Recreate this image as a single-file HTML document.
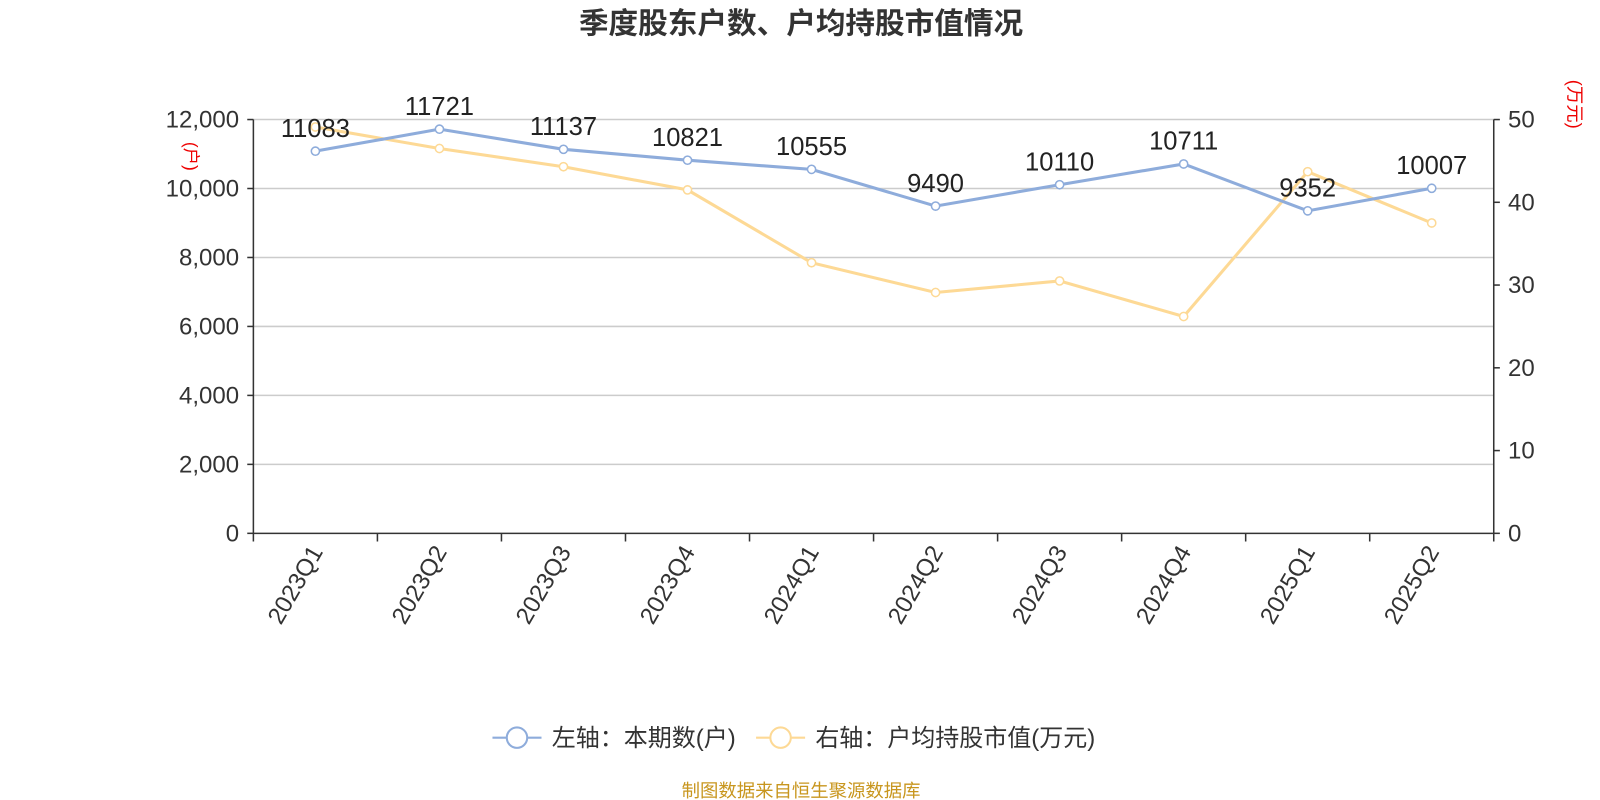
<!DOCTYPE html>
<html><head><meta charset="utf-8"><style>
html,body{margin:0;padding:0;background:#fff;}
svg{display:block;font-family:"Liberation Sans","Noto Sans CJK SC",sans-serif;}
</style></head><body>
<svg id="chart" width="1600" height="800" viewBox="0 0 1566 783" preserveAspectRatio="none">
<text x="784" y="33" text-anchor="middle" font-size="29" font-weight="bold" fill="#333">季度股东户数、户均持股市值情况</text>
<g id="grid"></g>
<g id="axes"></g>
<g id="series"></g>
<text transform="translate(181,153) rotate(90)" text-anchor="middle" font-size="17" fill="#e00">(户)</text>
<text transform="translate(1535,102) rotate(90)" text-anchor="middle" font-size="18" fill="#e00">(万元)</text>
<g>
<line x1="482" y1="722" x2="530" y2="722" stroke="#8eacdb" stroke-width="2"/>
<circle cx="506" cy="722" r="10" fill="#fff" stroke="#8eacdb" stroke-width="2"/>
<text x="540" y="730" font-size="23.5" fill="#333">左轴：本期数(户)</text>
</g>
<g>
<line x1="740" y1="722" x2="788" y2="722" stroke="#fdd995" stroke-width="2"/>
<circle cx="764" cy="722" r="10" fill="#fff" stroke="#fdd995" stroke-width="2"/>
<text x="798" y="730" font-size="23.5" fill="#333">右轴：户均持股市值(万元)</text>
</g>
<text x="784" y="780" text-anchor="middle" font-size="18" fill="#c8961e">制图数据来自恒生聚源数据库</text>
</svg>
<script>
const categories=["2023Q1","2023Q2","2023Q3","2023Q4","2024Q1","2024Q2","2024Q3","2024Q4","2025Q1","2025Q2"];
const holders=[11083,11721,11137,10821,10555,9490,10110,10711,9352,10007];
const avgValue=[49.1,46.5,44.3,41.5,32.7,29.1,30.5,26.2,43.7,37.5];
const leftTicks=[0,2000,4000,6000,8000,10000,12000];
const rightTicks=[0,10,20,30,40,50];
const NS="http://www.w3.org/2000/svg";
const X0=248,X1=1462,Y0=522,Y1=117;
const bw=(X1-X0)/categories.length;
const xc=i=>X0+bw*(i+0.5);
const yL=v=>Y0-(v/12000)*(Y0-Y1);
const yR=v=>Y0-(v/50)*(Y0-Y1);
function mk(tag,attrs,parent){const e=document.createElementNS(NS,tag);for(const k in attrs)e.setAttribute(k,attrs[k]);parent.appendChild(e);return e;}
const grid=document.getElementById('grid'),axes=document.getElementById('axes'),ser=document.getElementById('series');
leftTicks.forEach(t=>{
  const y=yL(t);
  if(t>0){const g=mk('line',{x1:X0,x2:X1,y1:y,y2:y,stroke:'#ccc','stroke-width':1.5},grid);
  
  }
  mk('line',{x1:X0-6,x2:X0,y1:y,y2:y,stroke:'#333','stroke-width':1.5},axes);
  const tx=mk('text',{x:X0-14,y:y+8,'text-anchor':'end','font-size':23.5,fill:'#333'},axes);
  tx.textContent=t.toLocaleString('en-US');
  
  
});
rightTicks.forEach(t=>{
  const y=yR(t);
  mk('line',{x1:X1,x2:X1+6,y1:y,y2:y,stroke:'#333','stroke-width':1.5},axes);
  const tx=mk('text',{x:X1+14,y:y+8,'font-size':23.5,fill:'#333'},axes);
  tx.textContent=t;
  
  
});
mk('line',{x1:X0,x2:X0,y1:Y1,y2:Y0,stroke:'#333','stroke-width':1.5},axes);
mk('line',{x1:X1,x2:X1,y1:Y1,y2:Y0,stroke:'#333','stroke-width':1.5},axes);
mk('line',{x1:X0,x2:X1,y1:Y0,y2:Y0,stroke:'#333','stroke-width':1.5},axes);
for(let i=0;i<=categories.length;i++){const x=X0+bw*i;mk('line',{x1:x,x2:x,y1:Y0,y2:Y0+8,stroke:'#333','stroke-width':1.5},axes);}
categories.forEach((c,i)=>{
  const x=xc(i)+8,y=Y0+18;
  const tx=mk('text',{x:x,y:y,'text-anchor':'end','font-size':23.5,fill:'#333',transform:`rotate(-60 ${x} ${y})`},axes);
  tx.textContent=c;
  
  
});
function line(vals,fy,color,name){
  const p=mk('polyline',{points:vals.map((v,i)=>xc(i)+','+fy(v)).join(' '),fill:'none',stroke:color,'stroke-width':3},ser);
  
  
  vals.forEach((v,i)=>{
    const c=mk('circle',{cx:xc(i),cy:fy(v),r:4,fill:'#fff',stroke:color,'stroke-width':1.5},ser);
    
    
  });
}
line(avgValue,yR,'#fdd995','avg-value');
line(holders,yL,'#8eacdb','holders');
holders.forEach((v,i)=>{
  const t=mk('text',{x:xc(i),y:yL(v)-14,'text-anchor':'middle','font-size':25,fill:'#222'},ser);
  t.textContent=v;
  
  
});
</script>
</body></html>
